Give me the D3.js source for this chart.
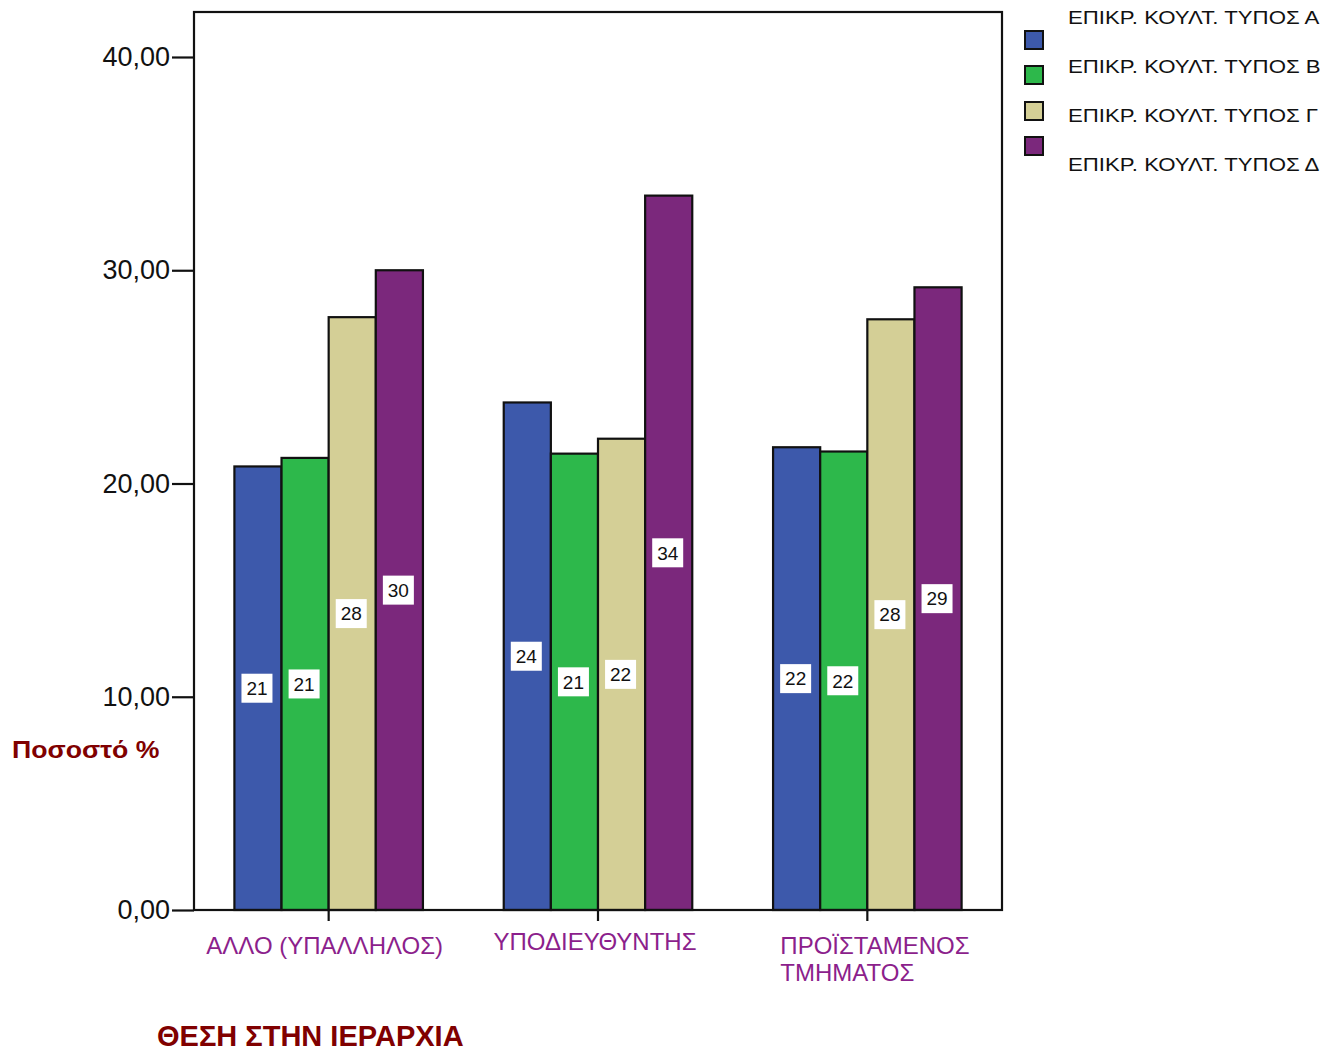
<!DOCTYPE html>
<html>
<head>
<meta charset="utf-8">
<script src="https://cdn.jsdelivr.net/npm/d3@7"></script>
<style>
  html, body { margin: 0; padding: 0; background: #fff; }
  svg { display: block; font-family: Arial, "Liberation Sans", sans-serif; }
</style>
</head>
<body>
<svg id="chart" width="1339" height="1053"></svg>
<script>
// Position in the hierarchy (x categories)
const categories = ["ΑΛΛΟ (ΥΠΑΛΛΗΛΟΣ)", "ΥΠΟΔΙΕΥΘΥΝΤΗΣ", "ΠΡΟΪΣΤΑΜΕΝΟΣ ΤΜΗΜΑΤΟΣ"];
// Culture types (series)
const seriesNames = ["ΕΠΙΚΡ. ΚΟΥΛΤ. ΤΥΠΟΣ Α", "ΕΠΙΚΡ. ΚΟΥΛΤ. ΤΥΠΟΣ Β", "ΕΠΙΚΡ. ΚΟΥΛΤ. ΤΥΠΟΣ Γ", "ΕΠΙΚΡ. ΚΟΥΛΤ. ΤΥΠΟΣ Δ"];
// Percentages per series, one value per category
const typeA = [20.8, 23.8, 21.7];
const typeB = [21.2, 21.4, 21.5];
const typeG = [27.8, 22.1, 27.7];
const typeD = [30.0, 33.5, 29.2];
const seriesColors = ["#3d59ab", "#2db84b", "#d4cf96", "#7b287c"];
const yTicks = [0, 10, 20, 30, 40];
const yTickLabels = ["0,00", "10,00", "20,00", "30,00", "40,00"];

const seriesValues = [typeA, typeB, typeG, typeD];

const svg = d3.select("#chart");
const plot = { left: 194, right: 1002, top: 12, bottom: 910 };

const x0 = d3.scaleBand().domain(categories)
  .range([plot.left, plot.right]).paddingInner(0.3).paddingOuter(0.15);
const x1 = d3.scaleBand().domain(seriesNames).range([0, x0.bandwidth()]);
const y = d3.scaleLinear().domain([0, 40]).range([plot.bottom, 57]);

// Bars
const groups = svg.append("g").selectAll("g")
  .data(categories).join("g")
  .attr("transform", c => `translate(${x0(c)},0)`);

const barData = (c, ci) => seriesNames.map((s, si) => ({ s, si, v: seriesValues[si][ci] }));

groups.each(function (c, ci) {
  const g = d3.select(this);
  const d = barData(c, ci);
  g.selectAll("rect.bar").data(d).join("rect")
    .attr("class", "bar")
    .attr("x", e => x1(e.s))
    .attr("y", e => y(e.v))
    .attr("width", x1.bandwidth())
    .attr("height", e => y(0) - y(e.v))
    .attr("fill", e => seriesColors[e.si])
    .attr("stroke", "#111")
    .attr("stroke-width", 2.2);

  // Value labels in white boxes at bar mid-height
  const lab = g.selectAll("g.lab").data(d).join("g")
    .attr("class", "lab")
    .attr("transform", e => `translate(${x1(e.s) + x1.bandwidth() / 2 - 1},${(y(e.v) + y(0)) / 2})`);
  lab.append("rect")
    .attr("x", -15.5).attr("y", -14.5).attr("width", 31).attr("height", 29)
    .attr("fill", "#fff");
  lab.append("text")
    .attr("text-anchor", "middle").attr("dy", "0.36em")
    .attr("font-size", 19).attr("fill", "#111")
    .text(e => d3.format(".0f")(e.v));
});

// Frame
svg.append("rect")
  .attr("x", plot.left).attr("y", plot.top)
  .attr("width", plot.right - plot.left).attr("height", plot.bottom - plot.top)
  .attr("fill", "none").attr("stroke", "#111").attr("stroke-width", 2.2);

// Y axis
const yAxis = d3.axisLeft(y).tickValues(yTicks).tickSize(22).tickPadding(2)
  .tickFormat((d, i) => yTickLabels[i]);
const yG = svg.append("g").attr("transform", `translate(${plot.left},0)`).call(yAxis);
yG.select(".domain").remove();
yG.selectAll(".tick line").attr("stroke", "#111").attr("stroke-width", 2.2);
yG.selectAll(".tick text").attr("font-size", 27).attr("fill", "#111")
  .attr("font-family", "Arial, 'Liberation Sans', sans-serif");

// X axis ticks
const xAxis = d3.axisBottom(x0).tickSize(11).tickFormat("");
const xG = svg.append("g").attr("transform", `translate(0,${plot.bottom})`).call(xAxis);
xG.select(".domain").remove();
xG.selectAll(".tick line").attr("stroke", "#111").attr("stroke-width", 2.2);

// Category labels
const catLabels = [
  { lines: ["ΑΛΛΟ (ΥΠΑΛΛΗΛΟΣ)"], anchor: "middle", dx: -4, dy: 945 },
  { lines: ["ΥΠΟΔΙΕΥΘΥΝΤΗΣ"], anchor: "middle", dx: -3, dy: 941 },
  { lines: ["ΠΡΟΪΣΤΑΜΕΝΟΣ", "ΤΜΗΜΑΤΟΣ"], anchor: "start", dx: -87, dy: 945 }
];
categories.forEach((c, i) => {
  const cfg = catLabels[i];
  const cx = x0(c) + x0.bandwidth() / 2 + cfg.dx;
  const t = svg.append("text")
    .attr("x", cx).attr("y", cfg.dy)
    .attr("text-anchor", cfg.anchor)
    .attr("font-size", 24).attr("fill", "#8c1f8c");
  cfg.lines.forEach((ln, k) => {
    t.append("tspan").attr("x", cx).attr("y", cfg.dy + k * 27)
      .attr("dy", "0.36em").text(ln);
  });
});

// Axis titles
svg.append("text")
  .attr("transform", "translate(12,749) scale(1.11,1)")
  .attr("dy", "0.36em")
  .attr("font-size", 24).attr("font-weight", "bold").attr("fill", "#800000")
  .text("Ποσοστό %");
svg.append("text")
  .attr("x", 157).attr("y", 1036).attr("dy", "0.36em")
  .attr("font-size", 29).attr("font-weight", "bold").attr("fill", "#800000")
  .text("ΘΕΣΗ ΣΤΗΝ ΙΕΡΑΡΧΙΑ");

// Legend
const legendSwatchY = [31, 66, 102, 137];
const legendTextY = [17, 66, 115, 164];
const legend = svg.append("g");
seriesNames.forEach((s, i) => {
  legend.append("rect")
    .attr("x", 1025).attr("y", legendSwatchY[i])
    .attr("width", 18).attr("height", 18)
    .attr("fill", seriesColors[i]).attr("stroke", "#111").attr("stroke-width", 2);
  legend.append("text")
    .attr("transform", `translate(1068,${legendTextY[i]}) scale(1.17,1)`)
    .attr("dy", "0.36em")
    .attr("font-size", 19).attr("fill", "#111")
    .text(s);
});
</script>
</body>
</html>
